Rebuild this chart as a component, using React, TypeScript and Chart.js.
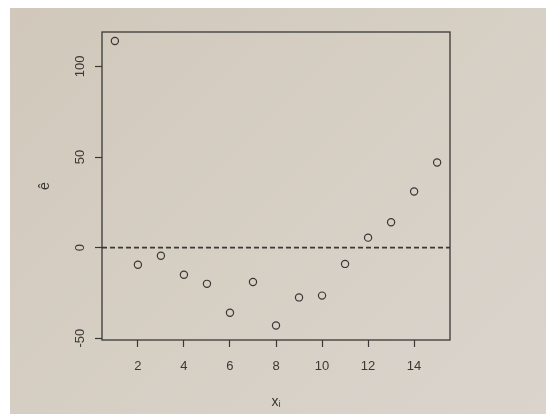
import React, { useEffect, useRef } from "react";
import { Chart, registerables } from "chart.js";

Chart.register(...registerables);

// ---- data ----
const xValues = [1, 2, 3, 4, 5, 6, 7, 8, 9, 10, 11, 12, 13, 14, 15];
const residuals = [114, -9.5, -4.5, -15, -20, -36, -19, -43, -27.5, -26.5, -9, 5.5, 14, 31, 47];
const xTicks = [2, 4, 6, 8, 10, 12, 14];
const yTicks = [-50, 0, 50, 100];
const xRange = [0.44, 15.56];
const yRange = [-51, 119];
const referenceLevel = 0;
const xTitle = "x\u1D62";
const yTitle = "\u00EA";

const INK = "#3a3836";
const FONT = "'Liberation Sans', Arial, sans-serif";

const boxPlugin = {
  id: "rbox",
  afterDatasetsDraw(chart: any) {
    const { ctx, chartArea } = chart;
    ctx.save();
    ctx.strokeStyle = INK;
    ctx.lineWidth = 1.3;
    ctx.strokeRect(chartArea.left, chartArea.top, chartArea.right - chartArea.left, chartArea.bottom - chartArea.top);
    ctx.restore();
  },
};

export default function App() {
  const ref = useRef<HTMLCanvasElement | null>(null);

  useEffect(() => {
    if (!ref.current) return;
    const points = xValues.map((x, i) => ({ x, y: residuals[i] }));
    const chart = new Chart(ref.current, {
      type: "scatter",
      data: {
        datasets: [
          {
            type: "line",
            data: [
              { x: xRange[0], y: referenceLevel },
              { x: xRange[1], y: referenceLevel },
            ],
            borderColor: INK,
            borderWidth: 1.6,
            borderDash: [5, 3],
            pointRadius: 0,
            fill: false,
          } as any,
          {
            data: points,
            pointStyle: "circle",
            pointRadius: 3.6,
            pointBorderWidth: 1.2,
            borderColor: INK,
            backgroundColor: "rgba(0,0,0,0)",
            pointBackgroundColor: "rgba(0,0,0,0)",
            pointBorderColor: INK,
          } as any,
        ],
      },
      options: {
        animation: false,
        responsive: false,
        maintainAspectRatio: false,
        events: [],
        layout: { padding: { top: 24, right: 96, bottom: 0, left: 0 } },
        plugins: { legend: { display: false }, tooltip: { enabled: false } },
        scales: {
          x: {
            type: "linear",
            min: xRange[0],
            max: xRange[1],
            afterBuildTicks: (s: any) => {
              s.ticks = xTicks.map((v) => ({ value: v }));
            },
            afterFit: (s: any) => {
              s.height = 74;
            },
            grid: { drawOnChartArea: false, drawTicks: true, tickLength: 7, tickColor: INK, tickWidth: 1.2 },
            border: { display: false },
            ticks: { color: INK, font: { family: FONT, size: 13 }, padding: 12, maxRotation: 0, autoSkip: false },
            title: { display: true, text: xTitle, color: INK, font: { family: FONT, size: 14 }, padding: { top: 0, bottom: 3 } },
          },
          y: {
            type: "linear",
            min: yRange[0],
            max: yRange[1],
            afterBuildTicks: (s: any) => {
              s.ticks = yTicks.map((v) => ({ value: v }));
            },
            afterFit: (s: any) => {
              s.width = 92;
            },
            grid: { drawOnChartArea: false, drawTicks: true, tickLength: 7, tickColor: INK, tickWidth: 1.2 },
            border: { display: false },
            ticks: {
              color: INK,
              font: { family: FONT, size: 13 },
              padding: 4,
              minRotation: 90,
              maxRotation: 90,
              crossAlign: "center",
              autoSkip: false,
            },
            title: { display: true, text: yTitle, color: INK, font: { family: FONT, size: 14 }, padding: { top: 27, bottom: 0 } },
          },
        },
      },
      plugins: [boxPlugin],
    } as any);
    return () => chart.destroy();
  }, []);

  return (
    <div
      style={{
        position: "absolute",
        left: 10,
        top: 8,
        width: 536,
        height: 406,
        background: "linear-gradient(135deg, #d1c8bb 0%, #d6cfc4 50%, #dad4cd 100%)",
      }}
    >
      <canvas ref={ref} width={536} height={406} style={{ display: "block" }} />
    </div>
  );
}
